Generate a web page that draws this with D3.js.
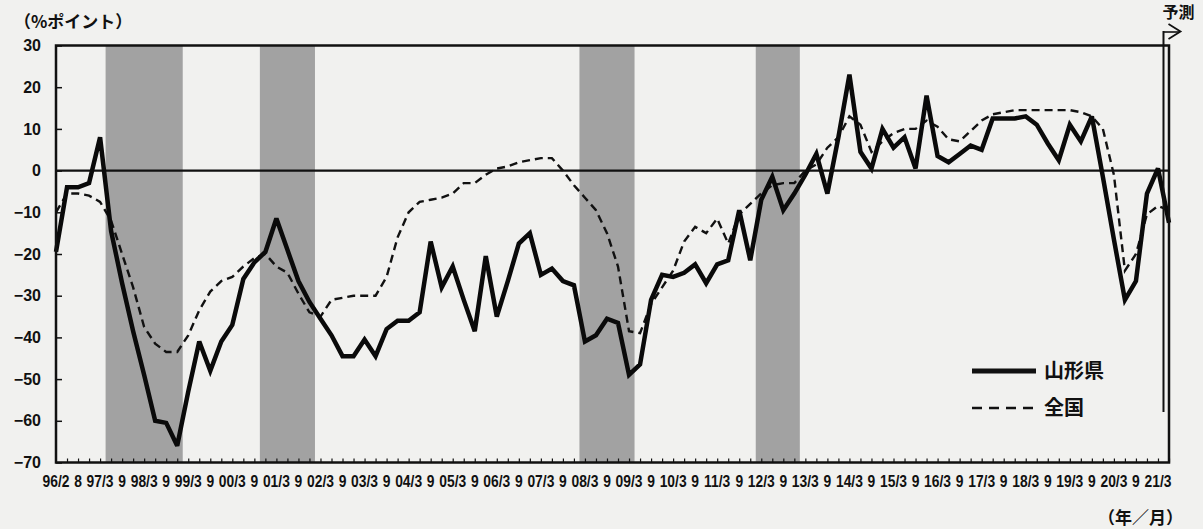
<!DOCTYPE html>
<html><head><meta charset="utf-8">
<script src="https://cdn.jsdelivr.net/npm/d3@7"></script>
<style>
html,body{margin:0;padding:0;background:#f1f1ef;}
svg{display:block;}
</style></head>
<body>
<svg id="chart" width="1203" height="529"></svg>
<script>
// ---- data ----
const periods = [
"96/2","96/5","96/8","96/11",
"97/3","97/6","97/9","97/12","98/3","98/6","98/9","98/12","99/3","99/6","99/9","99/12",
"00/3","00/6","00/9","00/12","01/3","01/6","01/9","01/12","02/3","02/6","02/9","02/12",
"03/3","03/6","03/9","03/12","04/3","04/6","04/9","04/12","05/3","05/6","05/9","05/12",
"06/3","06/6","06/9","06/12","07/3","07/6","07/9","07/12","08/3","08/6","08/9","08/12",
"09/3","09/6","09/9","09/12","10/3","10/6","10/9","10/12","11/3","11/6","11/9","11/12",
"12/3","12/6","12/9","12/12","13/3","13/6","13/9","13/12","14/3","14/6","14/9","14/12",
"15/3","15/6","15/9","15/12","16/3","16/6","16/9","16/12","17/3","17/6","17/9","17/12",
"18/3","18/6","18/9","18/12","19/3","19/6","19/9","19/12","20/3","20/6","20/9","20/12",
"21/3","21/6"];

const tickLabels = ["96/2","8","97/3","9","98/3","9","99/3","9","00/3","9","01/3","9",
"02/3","9","03/3","9","04/3","9","05/3","9","06/3","9","07/3","9","08/3","9","09/3","9",
"10/3","9","11/3","9","12/3","9","13/3","9","14/3","9","15/3","9","16/3","9","17/3","9",
"18/3","9","19/3","9","20/3","9","21/3"];

const yamagata = [
-19.5,-4,-4,-3,8,-14.5,-27,-38.5,-49,-60,
-60.5,-66,-53,-41,-48,-41,-37,-26,-22,-19.5,
-11.5,-19,-26.5,-31.5,-35.5,-39.5,-44.5,-44.5,-40.5,-44.5,
-38,-36,-36,-34,-17,-28,-23,-31,-38.5,-20.5,
-35,-26.5,-17.5,-15,-25,-23.5,-26.5,-27.5,-41,-39.5,
-35.5,-36.5,-49,-46.5,-31,-25,-25.5,-24.5,-22.5,-27,
-22.5,-21.5,-9.5,-21.5,-7,-1.5,-9.5,-5.5,-1,4,
-5.5,8,23,4.5,0.5,10,5.5,8,0.5,18,
3.5,2,4,6,5,12.5,12.5,12.5,13,11,
6.5,2.5,11,7,13,-1.5,-16.5,-31,-26.5,-5.5,
0.5,-12.5];

const zenkoku = [
-10,-5.5,-5.5,-6,-7.5,-12,-20,-28,-37.5,-41.5,
-43.5,-43.5,-39.5,-33.5,-29,-26.5,-25.5,-23,-21,-20,
-23,-24.5,-29.5,-34,-35,-31,-30.5,-30,-30,-30,
-25.5,-16,-10,-7.5,-7,-6.5,-5.5,-3,-3,-1,
0.5,1,2,2.5,3,3,0,-3.5,-6.5,-9.5,
-15,-23,-38.5,-39,-32,-28,-24,-17,-13.5,-15,
-11.5,-17.5,-10.5,-8,-5.5,-3.5,-3,-3,0,1.5,
5.5,8,13,11,4.5,7,9,10,10,12,
10.5,7.5,7,9.5,12,13.5,14,14.5,14.5,14.5,
14.5,14.5,14.5,14,13,10,-1,-24,-20,-10.5,
-8.5,-9.5];

// recession periods (shaded between these survey points)
const recessionStart = ["97/3","00/9","07/12","11/12"];
const recessionEnd   = ["98/12","01/12","09/3","12/12"];
const yTicks = [30,20,10,0,-10,-20,-30,-40,-50,-60,-70];
const forecastAfter = "21/3";

// ---- drawing ----
const svg = d3.select("#chart");
const L = 56, R = 1169, T = 45.5, B = 462.5;

const x = d3.scalePoint().domain(periods).range([L, R]).padding(0);
const y = d3.scaleLinear().domain([-70, 30]).range([B, T]);
const step = x.step();

const jp = "'Noto Sans CJK JP','Noto Sans CJK SC',sans-serif";
const sans = "'Liberation Sans',Arial,sans-serif";

// shaded recessions
svg.append("g").selectAll("rect")
  .data(recessionStart.map((s, k) => [s, recessionEnd[k]]))
  .join("rect")
  .attr("x", d => x(d[0]) + step / 2)
  .attr("width", d => x(d[1]) - x(d[0]))
  .attr("y", T)
  .attr("height", B - T)
  .attr("fill", "#a2a2a2");

// zero line
svg.append("line")
  .attr("x1", L).attr("x2", R)
  .attr("y1", y(0)).attr("y2", y(0))
  .attr("stroke", "#111").attr("stroke-width", 2.2);

// lines
const lineGen = d3.line().x((d, i) => x(periods[i])).y(d => y(d));
svg.append("path").datum(zenkoku)
  .attr("d", lineGen)
  .attr("fill", "none").attr("stroke", "#111")
  .attr("stroke-width", 2.4).attr("stroke-dasharray", "8,5");
svg.append("path").datum(yamagata)
  .attr("d", lineGen)
  .attr("fill", "none").attr("stroke", "#0a0a0a")
  .attr("stroke-width", 4.5).attr("stroke-linejoin", "miter").attr("stroke-miterlimit", 3);

// frame
svg.append("rect")
  .attr("x", L).attr("y", T).attr("width", R - L).attr("height", B - T)
  .attr("fill", "none").attr("stroke", "#111").attr("stroke-width", 2.5);

// forecast marker
const fx = x(forecastAfter) + step / 2;
svg.append("line").attr("x1", fx).attr("x2", fx).attr("y1", 31).attr("y2", 412)
  .attr("stroke", "#111").attr("stroke-width", 2);
svg.append("line").attr("x1", fx).attr("x2", fx + 16).attr("y1", 32).attr("y2", 32)
  .attr("stroke", "#111").attr("stroke-width", 1.6);
svg.append("path")
  .attr("d", `M${fx + 5},24 L${fx + 17},31.5 L${fx + 5},39`)
  .attr("fill", "none").attr("stroke", "#111").attr("stroke-width", 1.8);
svg.append("text").attr("x", fx + 15).attr("y", 18)
  .attr("text-anchor", "middle")
  .style("font-family", jp).style("font-weight", "bold").style("font-size", "16px")
  .attr("fill", "#111").text("予測");

// y axis
const yAxis = svg.append("g").attr("transform", `translate(${L},0)`)
  .call(d3.axisLeft(y).tickValues(yTicks).tickSize(-6).tickPadding(15));
yAxis.select(".domain").remove();
yAxis.selectAll("line").attr("stroke", "#111").attr("stroke-width", 1.5);
yAxis.selectAll("text")
  .style("font-family", sans)
  .style("font-weight", "bold").style("font-size", "16px").attr("fill", "#111");

// x axis
const xAxis = svg.append("g").attr("transform", `translate(0,${B})`)
  .call(d3.axisBottom(x).tickValues(periods.slice(1)).tickSize(-4).tickFormat(() => ""));
xAxis.select(".domain").remove();
xAxis.selectAll("line").attr("stroke", "#111").attr("stroke-width", 1.2);

svg.append("g").selectAll("text")
  .data(tickLabels)
  .join("text")
  .attr("transform", (d, k) => `translate(${x(periods[k * 2])},${B + 24}) scale(0.84,1)`)
  .attr("text-anchor", "middle")
  .style("font-family", sans).style("font-weight", "bold").style("font-size", "16.5px")
  .attr("fill", "#111")
  .text(d => d);

// titles
svg.append("text").attr("x", 14).attr("y", 28)
  .style("font-family", jp).style("font-weight", "bold").style("font-size", "17px")
  .attr("fill", "#111").text("（%ポイント）");
svg.append("text").attr("x", 1098).attr("y", 524)
  .style("font-family", jp).style("font-weight", "bold").style("font-size", "17px")
  .attr("fill", "#111").text("（年／月）");

// legend
const legend = [
  {name: "山形県", w: 5, dash: null, y: 371},
  {name: "全国", w: 2.6, dash: "10,7", y: 408}
];
const lg = svg.append("g");
legend.forEach(d => {
  lg.append("line").attr("x1", 972).attr("x2", 1036).attr("y1", d.y).attr("y2", d.y)
    .attr("stroke", "#111").attr("stroke-width", d.w)
    .attr("stroke-dasharray", d.dash);
  lg.append("text").attr("x", 1044).attr("y", d.y + 7)
    .style("font-family", jp).style("font-weight", "bold").style("font-size", "20px")
    .attr("fill", "#111").text(d.name);
});
</script>
</body></html>
